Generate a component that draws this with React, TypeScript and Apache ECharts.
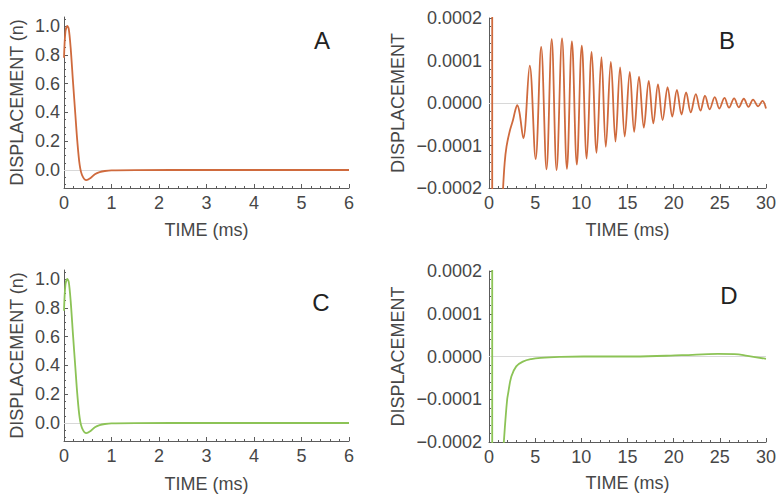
import React, { useEffect, useRef } from "react";
import * as echarts from "echarts";

// ---- data ----
// Panel A: normalised displacement (n) vs time (ms)
const aResponse: [number, number][] = [
  [0, 0.78], [0.03, 0.96], [0.07, 1.0], [0.1, 0.98], [0.14, 0.85], [0.19, 0.61],
  [0.24, 0.38], [0.28, 0.2], [0.33, 0.035], [0.38, -0.035], [0.47, -0.07],
  [0.56, -0.055], [0.65, -0.03], [0.75, -0.015], [0.86, -0.007], [1.0, -0.002],
  [1.5, -0.0002], [3, 0], [6, 0],
];
// Panel C: same shape, green
const cResponse: [number, number][] = [
  [0, 0.78], [0.03, 0.96], [0.07, 1.0], [0.1, 0.98], [0.14, 0.85], [0.19, 0.61],
  [0.24, 0.38], [0.28, 0.2], [0.33, 0.035], [0.38, -0.035], [0.47, -0.07],
  [0.56, -0.055], [0.65, -0.03], [0.75, -0.015], [0.86, -0.007], [1.0, -0.002],
  [1.5, -0.0002], [3, 0], [6, 0],
];
// Panel B: zoomed displacement, ringing (peaks / troughs)
const bResponse: [number, number][] = [
  [1.52, -2.02e-4], [1.7, -1.4e-4], [1.9, -1.02e-4], [2.25, -0.66e-4], [2.6, -0.4e-4],
  [2.85, -0.17e-4], [3.06, -0.05e-4], [3.3, -0.22e-4], [3.72, -0.83e-4],
  [4.41, 0.88e-4], [5.05, -1.32e-4], [5.65, 1.32e-4], [6.23, -1.56e-4],
  [6.79, 1.5e-4], [7.32, -1.58e-4], [7.91, 1.52e-4], [8.44, -1.55e-4],
  [8.98, 1.45e-4], [9.51, -1.45e-4], [10.05, 1.35e-4], [10.58, -1.31e-4],
  [11.12, 1.2e-4], [11.65, -1.17e-4], [12.18, 1.08e-4], [12.65, -1.03e-4],
  [13.2, 0.97e-4], [13.7, -0.91e-4], [14.2, 0.84e-4], [14.7, -0.79e-4],
  [15.25, 0.73e-4], [15.72, -0.68e-4], [16.25, 0.62e-4], [16.77, -0.58e-4],
  [17.3, 0.52e-4], [17.8, -0.48e-4], [18.3, 0.44e-4], [18.8, -0.4e-4],
  [19.35, 0.37e-4], [19.85, -0.32e-4], [20.35, 0.31e-4], [20.85, -0.27e-4],
  [21.35, 0.25e-4], [21.85, -0.22e-4], [22.4, 0.21e-4], [22.9, -0.18e-4],
  [23.4, 0.17e-4], [23.9, -0.15e-4], [24.45, 0.14e-4], [24.95, -0.13e-4],
  [25.5, 0.12e-4], [26.0, -0.11e-4], [26.55, 0.11e-4], [27.05, -0.1e-4],
  [27.6, 0.1e-4], [28.1, -0.09e-4], [28.6, 0.08e-4], [29.15, -0.08e-4],
  [29.62, 0.05e-4], [30, -0.13e-4],
];
// Panel D: zoomed displacement, no ringing
const dResponse: [number, number][] = [
  [1.6, -2.02e-4], [1.78, -1.48e-4], [1.97, -1.0e-4], [2.06, -0.88e-4],
  [2.42, -0.47e-4], [2.95, -0.23e-4], [3.67, -0.12e-4], [4.56, -0.06e-4],
  [5.6, -0.03e-4], [7.76, -0.008e-4], [10.25, 0], [15.6, 0], [20.9, 0.03e-4],
  [24.8, 0.06e-4], [26.6, 0.055e-4], [28, 0.015e-4], [30, -0.055e-4],
];
// onset (first half millisecond) that shows as the vertical stroke in B and D
const bOnset = aResponse.filter((p) => p[0] <= 0.56);
const dOnset = cResponse.filter((p) => p[0] <= 0.56);

const nMajorTicks = [0, 0.2, 0.4, 0.6, 0.8, 1.0];
const nMinorTicks = [-0.1, -0.05, 0.05, 0.1, 0.15, 0.25, 0.3, 0.35, 0.45, 0.5, 0.55, 0.65, 0.7, 0.75, 0.85, 0.9, 0.95, 1.05];
const panelLetters = ["A", "B", "C", "D"];

const FONT = "'Liberation Sans', Arial, sans-serif";
const AXIS_COLOR = "#5c5c5c";
const TEXT_COLOR = "#474747";
const ORANGE = "#cf6a3d";
const GREEN = "#8cc356";

function fmtSmall(v: number) {
  if (Math.abs(v) < 1e-12) return "0.0000";
  return (v < 0 ? "\u2212" : "") + Math.abs(v).toFixed(4);
}

const axisLine = { show: true, onZero: false, lineStyle: { color: AXIS_COLOR, width: 1 } };
const labelStyle = { color: TEXT_COLOR, fontSize: 18, fontFamily: FONT };
const nameStyle = { color: TEXT_COLOR, fontSize: 18, fontFamily: FONT };

function timeAxis(gridIndex: number, max: number, interval: number, nameGap: number) {
  return {
    type: "value", gridIndex, min: 0, max, interval,
    name: "TIME (ms)", nameLocation: "middle", nameGap, nameTextStyle: nameStyle,
    axisLine,
    axisTick: { show: true, inside: true, length: 4, lineStyle: { color: AXIS_COLOR } },
    minorTick: { show: true, splitNumber: 5, length: 2, lineStyle: { color: AXIS_COLOR } },
    axisLabel: { ...labelStyle, margin: 6, formatter: (v: number) => String(Math.round(v)) },
    splitLine: { show: false }, minorSplitLine: { show: false },
  };
}

function nAxis(gridIndex: number) {
  return [
    {
      type: "value", gridIndex, min: -0.125, max: 1.0625, position: "left",
      name: "DISPLACEMENT (n)", nameLocation: "middle", nameGap: 38, nameTextStyle: nameStyle,
      axisLine,
      axisTick: { show: true, inside: true, length: 4, customValues: nMajorTicks, lineStyle: { color: AXIS_COLOR } },
      axisLabel: { ...labelStyle, margin: 4, customValues: nMajorTicks, formatter: (v: number) => v.toFixed(1) },
      splitLine: { show: false },
    },
    {
      type: "value", gridIndex, min: -0.125, max: 1.0625, position: "left",
      axisLine: { show: false },
      axisTick: { show: true, inside: true, length: 2, customValues: nMinorTicks, lineStyle: { color: AXIS_COLOR } },
      axisLabel: { show: false },
      splitLine: { show: false },
    },
  ];
}

function smallAxis(gridIndex: number) {
  return {
    type: "value", gridIndex, min: -0.0002, max: 0.0002, interval: 0.0001, position: "left",
    name: "DISPLACEMENT", nameLocation: "middle", nameGap: 82, nameTextStyle: nameStyle,
    axisLine,
    axisTick: { show: true, inside: true, length: 4, lineStyle: { color: AXIS_COLOR } },
    minorTick: { show: true, splitNumber: 5, length: 2, lineStyle: { color: AXIS_COLOR } },
    axisLabel: { ...labelStyle, margin: 7, formatter: fmtSmall },
    splitLine: { show: false }, minorSplitLine: { show: false },
  };
}

const zeroLine = {
  silent: true, symbol: "none", z: 1,
  label: { show: false },
  lineStyle: { color: "#d8d8d8", width: 1, type: "solid" },
  data: [{ yAxis: 0 }],
};

function curve(name: string, xi: number, yi: number, data: [number, number][], color: string, smooth: number, withZero: boolean) {
  return {
    name, type: "line", xAxisIndex: xi, yAxisIndex: yi, data, smooth,
    showSymbol: false, clip: true, z: 3,
    lineStyle: { color, width: 1.8 },
    itemStyle: { color },
    ...(withZero ? { markLine: zeroLine } : {}),
  };
}

export default function App() {
  const ref = useRef<HTMLDivElement>(null);
  useEffect(() => {
    if (!ref.current) return;
    const chart = echarts.init(ref.current, undefined, { renderer: "svg" });
    const letterPos = [
      [322, 40], [727, 40], [321, 302], [729, 295],
    ];
    chart.setOption({
      animation: false,
      backgroundColor: "#ffffff",
      grid: [
        { left: 64, top: 17, width: 285, height: 171 },
        { left: 489, top: 18, width: 282, height: 170 },
        { left: 64, top: 270, width: 285, height: 172 },
        { left: 489, top: 271, width: 282, height: 171 },
      ],
      xAxis: [
        timeAxis(0, 6, 1, 33),
        timeAxis(1, 30, 5, 33),
        timeAxis(2, 6, 1, 34),
        timeAxis(3, 30, 5, 32),
      ],
      yAxis: [
        ...nAxis(0),
        smallAxis(1),
        ...nAxis(2),
        smallAxis(3),
      ],
      series: [
        curve("A", 0, 0, aResponse, ORANGE, 0.3, true),
        curve("B onset", 1, 2, bOnset, ORANGE, 0.3, false),
        curve("B", 1, 2, bResponse, ORANGE, 0.36, true),
        curve("C", 2, 3, cResponse, GREEN, 0.3, true),
        curve("D onset", 3, 5, dOnset, GREEN, 0.3, false),
        curve("D", 3, 5, dResponse, GREEN, 0.4, true),
      ],
      graphic: panelLetters.map((t, i) => ({
        type: "text",
        x: letterPos[i][0], y: letterPos[i][1],
        style: {
          text: t, fill: "#222222", fontSize: 24, fontFamily: FONT,
          textAlign: "center", textVerticalAlign: "middle",
        },
      })),
    });
    return () => chart.dispose();
  }, []);
  return (
    <div
      ref={ref}
      style={{ position: "fixed", left: 0, top: 0, width: 779, height: 494 }}
    />
  );
}
